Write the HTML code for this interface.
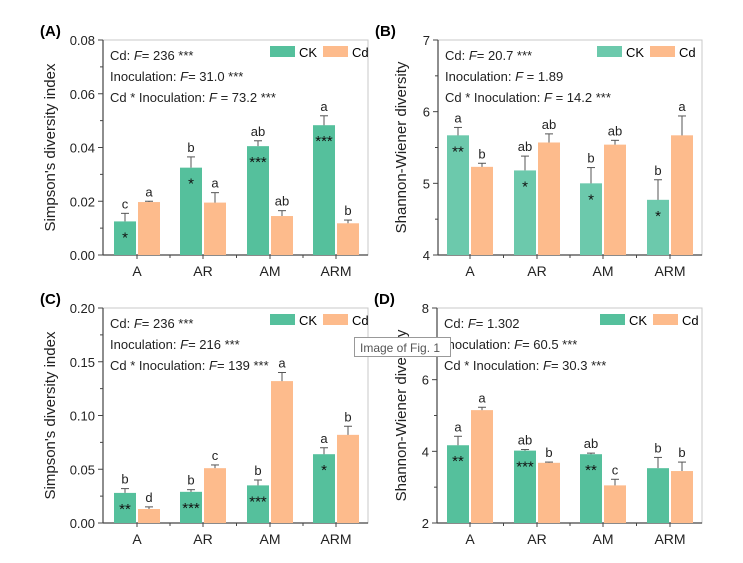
<!DOCTYPE html>
<html><head><meta charset="utf-8"><style>
body{margin:0;background:#fff;width:743px;height:558px;overflow:hidden;}
svg{font-family:"Liberation Sans",Arial,sans-serif;}
</style></head><body>
<svg id="s" width="743" height="558" xmlns="http://www.w3.org/2000/svg"></svg>
<script>
const s=document.getElementById('s');let h='';
const GC='#55c09c',OC='#fdbb8c';
function panel(p){
 const {L,R,T,B,ymin,ymax,ticks,fmt,lab,ylab,ylx,cats,ck,cke,cd,cde,lck,lcd,st,ann,green}=p;
 const Y=v=>B-(v-ymin)/(ymax-ymin)*(B-T);
 h+=`<rect x="${L}" y="${T}" width="${R-L}" height="${B-T}" fill="none" stroke="#c8c8c8" stroke-width="1"/>`;
 h+=`<line x1="${L}" y1="${T}" x2="${L}" y2="${B}" stroke="#444" stroke-width="1.2"/><line x1="${L}" y1="${B}" x2="${R}" y2="${B}" stroke="#444" stroke-width="1.2"/>`;
 for(let i=0;i<ticks.length;i++){const v=ticks[i],y=Y(v);
  h+=`<line x1="${L-5}" y1="${y}" x2="${L}" y2="${y}" stroke="#444"/><text x="${L-8}" y="${y+5}" font-size="13" text-anchor="end" fill="#222">${fmt(v)}</text>`;
  if(i<ticks.length-1){const m=Y((v+ticks[i+1])/2);h+=`<line x1="${L-3}" y1="${m}" x2="${L}" y2="${m}" stroke="#444"/>`;}}
 h+=`<text x="${L-63}" y="${T-4}" font-size="15" font-weight="bold">${lab}</text>`;
 const cy=(T+B)/2;h+=`<text transform="translate(${ylx},${cy}) rotate(-90)" font-size="15" text-anchor="middle" fill="#222">${ylab}</text>`;
 const bw=22;
 cats.forEach((c,i)=>{const x=p.cx[i];
  h+=`<line x1="${x}" y1="${B}" x2="${x}" y2="${B+4}" stroke="#444"/>`;
  if(i<3){const m=(x+p.cx[i+1])/2;h+=`<line x1="${m}" y1="${B}" x2="${m}" y2="${B+3}" stroke="#444"/>`;}
  h+=`<text x="${x}" y="${B+21}" font-size="14" text-anchor="middle" fill="#222">${c}</text>`;
  [[ck,cke,lck,x-bw-1,green],[cd,cde,lcd,x+1,OC]].forEach(([d,e,l,bx,col],j)=>{
   const yt=Y(d[i]),ye=Y(d[i]+e[i]);
   h+=`<rect x="${bx}" y="${yt}" width="${bw}" height="${B-yt}" fill="${col}"/>`;
   h+=`<line x1="${bx+bw/2}" y1="${yt}" x2="${bx+bw/2}" y2="${ye}" stroke="#555"/><line x1="${bx+bw/2-4}" y1="${ye}" x2="${bx+bw/2+4}" y2="${ye}" stroke="#555"/>`;
   h+=`<text x="${bx+bw/2}" y="${ye-5}" font-size="13" text-anchor="middle" fill="#222">${l[i]}</text>`;
   if(j==0&&st[i]) h+=`<text x="${bx+bw/2}" y="${yt+21}" font-size="15" text-anchor="middle" fill="#111">${st[i]}</text>`;
  });
 });
 ann.forEach((a,i)=>{h+=`<text x="${L+7}" y="${T+20+i*21}" font-size="13" fill="#222">${a}</text>`;});
 const lx=p.lx,ly=T+6;
 h+=`<rect x="${lx}" y="${ly}" width="25" height="11" fill="${green}"/><text x="${lx+29}" y="${ly+11}" font-size="13">CK</text>`;
 h+=`<rect x="${lx+53}" y="${ly}" width="25" height="11" fill="${OC}"/><text x="${lx+82}" y="${ly+11}" font-size="13">Cd</text>`;
}
const F='<tspan font-style="italic">F</tspan>';
panel({L:103,R:368,T:40,B:255,ymin:0,ymax:0.08,ticks:[0,0.02,0.04,0.06,0.08],fmt:v=>v.toFixed(2),lab:'(A)',ylab:"Simpson's diversity index",ylx:55,cats:['A','AR','AM','ARM'],cx:[137,203,270,336],
 ck:[0.0125,0.0325,0.0405,0.0483],cke:[0.003,0.004,0.002,0.0035],cd:[0.0197,0.0195,0.0145,0.0118],cde:[0.0003,0.0037,0.002,0.0012],
 lck:['c','b','ab','a'],lcd:['a','a','ab','b'],st:['*','*','***','***'],ann:[`Cd: ${F}= 236 ***`,`Inoculation: ${F}= 31.0 ***`,`Cd * Inoculation: ${F} = 73.2 ***`],lx:270,green:GC});
panel({L:438,R:702,T:40,B:255,ymin:4,ymax:7,ticks:[4,5,6,7],fmt:v=>v,lab:'(B)',ylab:"Shannon-Wiener diversity",ylx:406,cats:['A','AR','AM','ARM'],cx:[470,537,603,670],
 ck:[5.67,5.18,5.0,4.77],cke:[0.11,0.2,0.22,0.28],cd:[5.23,5.57,5.54,5.67],cde:[0.05,0.12,0.06,0.27],
 lck:['a','ab','b','b'],lcd:['b','ab','ab','a'],st:['**','*','*','*'],ann:[`Cd: ${F}= 20.7 ***`,`Inoculation: ${F} = 1.89`,`Cd * Inoculation: ${F} = 14.2 ***`],lx:597,green:'#6cc9ac'});
panel({L:103,R:368,T:308,B:523,ymin:0,ymax:0.2,ticks:[0,0.05,0.1,0.15,0.2],fmt:v=>v.toFixed(2),lab:'(C)',ylab:"Simpson's diversity index",ylx:55,cats:['A','AR','AM','ARM'],cx:[137,203,270,336],
 ck:[0.028,0.029,0.035,0.064],cke:[0.004,0.002,0.005,0.006],cd:[0.013,0.051,0.132,0.082],cde:[0.002,0.003,0.008,0.008],
 lck:['b','b','b','a'],lcd:['d','c','a','b'],st:['**','***','***','*'],ann:[`Cd: ${F}= 236 ***`,`Inoculation: ${F}= 216 ***`,`Cd * Inoculation: ${F}= 139 ***`],lx:270,green:GC});
panel({L:437,R:702,T:308,B:523,ymin:2,ymax:8,ticks:[2,4,6,8],fmt:v=>v,lab:'(D)',ylab:"Shannon-Wiener diversity",ylx:406,cats:['A','AR','AM','ARM'],cx:[470,537,603,670],
 ck:[4.17,4.02,3.92,3.53],cke:[0.25,0.03,0.03,0.3],cd:[5.15,3.68,3.05,3.45],cde:[0.08,0.02,0.17,0.25],
 lck:['a','ab','ab','b'],lcd:['a','b','c','b'],st:['**','***','**',''],ann:[`Cd: ${F}= 1.302`,`Inoculation: ${F}= 60.5 ***`,`Cd * Inoculation: ${F}= 30.3 ***`],lx:600,green:GC});
h+=`<rect x="354.5" y="337.5" width="96" height="19" fill="#fff" stroke="#999"/><text x="360" y="352" font-size="12" fill="#555">Image of Fig. 1</text>`;
s.innerHTML=h;
</script>
</body></html>
